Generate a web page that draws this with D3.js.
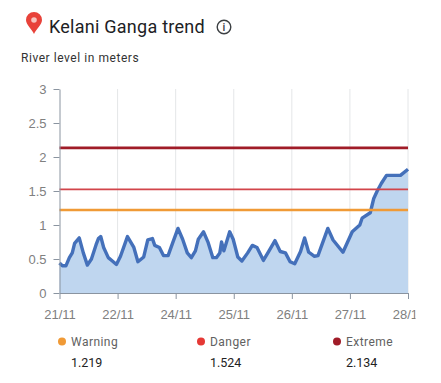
<!DOCTYPE html>
<html>
<head>
<meta charset="utf-8">
<script src="https://cdn.jsdelivr.net/npm/d3@7"></script>
<style>
  html, body { margin: 0; padding: 0; background: #fff; }
  svg { display: block; font-family: Roboto, sans-serif; }
  .axis text { fill: #808080; font-size: 13px; }
  .axis path, .axis line { stroke: #8a94a0; }
</style>
</head>
<body>
<div id="chart"></div>
<script>
const day_labels = ['21/11', '22/11', '24/11', '25/11', '26/11', '27/11', '28/11'];
const y_ticks = [0, 0.5, 1, 1.5, 2, 2.5, 3];

// position along the axis, in tick units (labels are not evenly spaced days)
const positions = [0, .05, .11, .17, .22, .26, .34, .41, .48, .55, .63, .67, .71, .76, .84, .91, .98,
  1.05, 1.17, 1.28, 1.35, 1.45, 1.52, 1.60, 1.64, 1.72, 1.79, 1.87, 1.95,
  2.04, 2.12, 2.20, 2.27, 2.34, 2.39, 2.48, 2.56, 2.64, 2.70, 2.76, 2.79, 2.83, 2.93, 2.99,
  3.07, 3.14, 3.24, 3.32, 3.40, 3.51, 3.60, 3.71, 3.80, 3.89, 3.97,
  4.05, 4.15, 4.22, 4.29, 4.39, 4.45, 4.62, 4.71, 4.88,
  5.04, 5.17, 5.21, 5.35, 5.41, 5.47, 5.54, 5.63, 5.87, 6];
const levels = [.44, .40, .40, .52, .59, .73, .81, .59, .41, .50, .71, .80, .83, .67, .52, .47, .42,
  .54, .83, .67, .46, .53, .78, .80, .70, .67, .55, .55, .74,
  .95, .79, .59, .52, .62, .79, .90, .74, .52, .52, .59, .75, .62, .90, .79,
  .53, .47, .59, .70, .67, .48, .61, .77, .61, .59, .46,
  .43, .61, .81, .60, .54, .55, .95, .78, .60,
  .90, 1.0, 1.10, 1.18, 1.39, 1.50, 1.61, 1.73, 1.73, 1.82];

const threshold_names = ['Warning', 'Danger', 'Extreme'];
const threshold_values = [1.219, 1.524, 2.134];
const threshold_colors = ['#f09a36', '#e53935', '#a01c28'];
const threshold_line_colors = ['#f09a36', '#d2444a', '#a01c28'];
const threshold_widths = [2.5, 1.8, 2.6];
const legend_x = [60, 199, 335];

const margin = {top: 89, left: 59.5};
const width = 348.5, height = 204;

const svg = d3.select('#chart').append('svg')
  .attr('width', 441)
  .attr('height', 383);

// header
const pin = svg.append('g').attr('transform', 'translate(34,26)');
pin.append('path')
  .attr('d', 'M0,9 C-2,4 -8,0 -8,-5 A8,8 0 1 1 8,-5 C8,0 2,4 0,9 Z')
  .attr('transform', 'translate(0,-1)')
  .attr('fill', '#e8423a');
pin.append('circle').attr('cy', -6).attr('r', 2.8).attr('fill', '#f7c5c0');

svg.append('text')
  .attr('x', 49).attr('y', 33)
  .style('font-size', '18px')
  .style('letter-spacing', '0.25px')
  .attr('fill', '#202124')
  .text('Kelani Ganga trend');

const info = svg.append('g').attr('transform', 'translate(224,27)');
info.append('circle').attr('r', 6.8).attr('fill', 'none').attr('stroke', '#3c4043').attr('stroke-width', 1.4);
info.append('text').attr('text-anchor', 'middle').attr('y', 4)
  .style('font-size', '11px').style('font-weight', 500).attr('fill', '#3c4043').text('i');

svg.append('text')
  .attr('x', 21).attr('y', 62)
  .style('font-size', '12px')
  .style('letter-spacing', '0.55px')
  .attr('fill', '#333')
  .text('River level in meters');

// chart
const g = svg.append('g').attr('transform', `translate(${margin.left},${margin.top})`);

const sx = d3.scaleLinear().domain([0, day_labels.length - 1]).range([0, width]);
const sy = d3.scaleLinear().domain([0, 3]).range([height, 0]);

g.selectAll('.grid')
  .data(day_labels.slice(1))
  .enter().append('line')
    .attr('class', 'grid')
    .attr('x1', (d, i) => sx(i + 1))
    .attr('x2', (d, i) => sx(i + 1))
    .attr('y1', 0)
    .attr('y2', height)
    .attr('stroke', '#e4e6e8');

const series = positions.map((p, i) => ({p: p, v: levels[i]}));

const area = d3.area()
  .x(d => sx(d.p))
  .y0(height)
  .y1(d => sy(d.v));

const line = d3.line()
  .x(d => sx(d.p))
  .y(d => sy(d.v));

g.append('path')
  .datum(series)
  .attr('d', area)
  .attr('fill', '#bfd6ef');

g.append('path')
  .datum(series)
  .attr('d', line)
  .attr('fill', 'none')
  .attr('stroke', '#4470ba')
  .attr('stroke-width', 3.4)
  .attr('stroke-linejoin', 'round');

g.selectAll('.threshold')
  .data(threshold_values)
  .enter().append('line')
    .attr('class', 'threshold')
    .attr('x1', 0)
    .attr('x2', width)
    .attr('y1', d => sy(d))
    .attr('y2', d => sy(d))
    .attr('stroke', (d, i) => threshold_line_colors[i])
    .attr('stroke-width', (d, i) => threshold_widths[i]);

const y_axis = d3.axisLeft(sy)
  .tickValues(y_ticks)
  .tickFormat(d3.format(''))
  .tickSize(6).tickPadding(7).tickSizeOuter(0);
const x_axis = d3.axisBottom(sx)
  .tickValues(d3.range(day_labels.length))
  .tickFormat(i => day_labels[i])
  .tickSize(6).tickPadding(11).tickSizeOuter(0);

g.append('g').attr('class', 'y axis').call(y_axis);

// the last label runs off the frame in the reference
svg.append('clipPath').attr('id', 'x_clip')
  .append('rect').attr('x', -30).attr('y', -2).attr('width', 386).attr('height', 40);

g.append('g').attr('class', 'x axis')
  .attr('transform', `translate(0,${height})`)
  .attr('clip-path', 'url(#x_clip)')
  .call(x_axis);

// legend
const legend = svg.selectAll('.legend')
  .data(threshold_names)
  .enter().append('g')
    .attr('class', 'legend')
    .attr('transform', (d, i) => `translate(${legend_x[i]},342)`);

legend.append('circle')
  .attr('cx', 2).attr('cy', -0.5).attr('r', 4)
  .attr('fill', (d, i) => threshold_colors[i]);

legend.append('text')
  .attr('x', 11).attr('y', 4)
  .style('font-size', '12px')
  .style('letter-spacing', '0.45px')
  .attr('fill', '#616161')
  .text(d => d);

legend.append('text')
  .attr('x', 11).attr('y', 25)
  .style('font-size', '12.5px')
  .attr('fill', '#222')
  .text((d, i) => d3.format('.3f')(threshold_values[i]));
</script>
</body>
</html>
